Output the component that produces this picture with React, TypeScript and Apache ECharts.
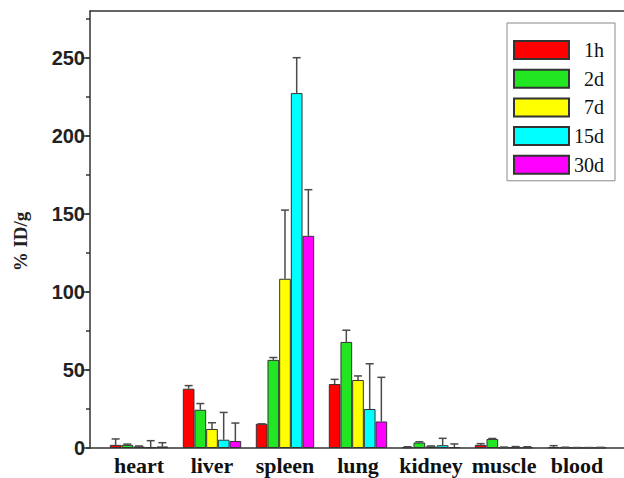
import React, { useEffect, useRef } from "react";
import * as echarts from "echarts";

const categories = ["heart", "liver", "spleen", "lung", "kidney", "muscle", "blood"];
const seriesNames = ["1h", "2d", "7d", "15d", "30d"];
const colors = ["#ff0000", "#22e622", "#ffff00", "#00ffff", "#ff00ff"];

const v1h = [2, 38, 15.5, 41, 0.5, 2, 0.5];
const v2d = [2, 24.5, 56.5, 68, 3.5, 5.8, 0.3];
const v7d = [1, 12.2, 108.5, 43.6, 1, 0.4, 0.2];
const v15d = [0.5, 5.3, 227.5, 25, 1.8, 0.4, 0.2];
const v30d = [1, 4.5, 136, 17, 0.6, 0.4, 0.3];

const e1h = [3.8, 2, 0, 3, 0.3, 0.8, 1];
const e2d = [0.5, 4, 1.5, 7.5, 0.5, 0.3, 0.2];
const e7d = [0.3, 4, 44, 2.6, 0.3, 0.2, 0.1];
const e15d = [4.2, 17.5, 22.7, 29, 4.4, 0.5, 0.1];
const e30d = [2.4, 11.5, 29.6, 28.3, 2, 0.4, 0.1];

const values = [v1h, v2d, v7d, v15d, v30d];
const errors = [e1h, e2d, e7d, e15d, e30d];

const PLOT_TOP = 11.2;
const PLOT_BOTTOM = 448;
const PX_PER_UNIT = (PLOT_BOTTOM - PLOT_TOP) / 280;

export default function App() {
  const ref = useRef<HTMLDivElement>(null);
  useEffect(() => {
    if (!ref.current) return;
    const chart = echarts.init(ref.current, undefined, { renderer: "svg" });
    const bottomGap = 478 - PLOT_BOTTOM;
    const barCatGap = 0.2;
    const nSeries = seriesNames.length;

    const barSeries = seriesNames.map((name, i) => ({
      name,
      type: "bar",
      xAxisIndex: 3,
      yAxisIndex: 3,
      data: values[i],
      barGap: "0%",
      barCategoryGap: "20%",
      itemStyle: { color: colors[i], borderColor: "#333", borderWidth: 1 },
      z: 3,
    }));

    const errSeries = seriesNames.map((name, i) => ({
      name: name + "-err",
      type: "custom",
      xAxisIndex: 3,
      yAxisIndex: 3,
      z: 4,
      data: values[i].map((v, k) => [k, v, errors[i][k]]),
      renderItem: (params: any, api: any) => {
        const band = api.size([1, 0])[0];
        const barW = (band * (1 - barCatGap)) / nSeries;
        const cx = api.coord([api.value(0), 0])[0] + (i - (nSeries - 1) / 2) * barW;
        const yTop = api.coord([api.value(0), api.value(1)])[1];
        const yErr = api.coord([api.value(0), api.value(1) + api.value(2)])[1];
        const st = { stroke: "#4a4a4a", lineWidth: 1.5 };
        return {
          type: "group",
          children: [
            { type: "line", shape: { x1: cx, y1: yTop, x2: cx, y2: yErr }, style: st },
            { type: "line", shape: { x1: cx - 4, y1: yErr, x2: cx + 4, y2: yErr }, style: st },
          ],
        };
      },
    }));

    const hiddenX = (gridIndex: number) => ({
      type: "value",
      gridIndex,
      show: false,
    });

    const option: any = {
      animation: false,
      backgroundColor: "#ffffff",
      grid: [
        { left: 90, right: 0, top: PLOT_TOP, bottom: bottomGap },
        { left: 90, right: 0, top: PLOT_BOTTOM - 250 * PX_PER_UNIT, bottom: bottomGap },
        { left: 90, right: 0, top: PLOT_BOTTOM - 275 * PX_PER_UNIT, bottom: bottomGap },
        { left: 102.5, width: 511, top: PLOT_TOP, bottom: bottomGap },
      ],
      xAxis: [
        {
          type: "value",
          gridIndex: 0,
          position: "bottom",
          axisLine: { show: true, lineStyle: { color: "#333", width: 1.5 } },
          axisTick: { show: false },
          axisLabel: { show: false },
          splitLine: { show: false },
        },
        hiddenX(1),
        hiddenX(2),
        {
          type: "category",
          gridIndex: 3,
          data: categories,
          axisLine: { show: false },
          axisTick: { show: false },
          axisLabel: {
            interval: 0,
            margin: 6,
            fontFamily: "Liberation Serif",
            fontWeight: "bold",
            fontSize: 22,
            color: "#111",
          },
        },
        {
          type: "value",
          gridIndex: 0,
          position: "top",
          axisLine: { show: true, lineStyle: { color: "#333", width: 1.5 } },
          axisTick: { show: false },
          axisLabel: { show: false },
          splitLine: { show: false },
        },
      ],
      yAxis: [
        {
          type: "value",
          gridIndex: 0,
          min: 0,
          max: 280,
          axisLine: { show: true, lineStyle: { color: "#333", width: 1.5 } },
          axisTick: { show: false },
          axisLabel: { show: false },
          splitLine: { show: false },
        },
        {
          type: "value",
          gridIndex: 1,
          min: 0,
          max: 250,
          interval: 50,
          axisLine: { show: false },
          axisTick: { show: true, inside: false, length: 7, lineStyle: { color: "#333", width: 1.5 } },
          axisLabel: {
            margin: 5,
            fontFamily: "Liberation Sans",
            fontWeight: "bold",
            fontSize: 20,
            color: "#222",
          },
          splitLine: { show: false },
        },
        {
          type: "value",
          gridIndex: 2,
          min: 0,
          max: 275,
          interval: 25,
          name: "% ID/g",
          nameLocation: "middle",
          nameGap: 60,
          nameTextStyle: {
            fontFamily: "Liberation Serif",
            fontWeight: "bold",
            fontSize: 19,
            color: "#222",
            padding: [0, 16, 0, 0],
          },
          axisLine: { show: false },
          axisTick: { show: true, length: 4, lineStyle: { color: "#333", width: 1.5 } },
          axisLabel: { show: false },
          splitLine: { show: false },
        },
        {
          type: "value",
          gridIndex: 3,
          min: 0,
          max: 280,
          show: false,
        },
      ],
      legend: {
        data: seriesNames,
        orient: "vertical",
        left: 507,
        top: 23,
        padding: [17, 11, 6, 6],
        borderColor: "#888",
        borderWidth: 1,
        itemWidth: 55,
        itemHeight: 18,
        itemGap: 8.7,
        icon: "rect",
        formatter: "{a|{name}}",
        textStyle: {
          fontFamily: "Liberation Serif",
          fontSize: 20,
          color: "#111",
          rich: {
            a: {
              fontFamily: "Liberation Serif",
              fontSize: 20,
              color: "#111",
              width: 30,
              align: "right",
              lineHeight: 18,
            },
          },
        },
      },
      series: [...barSeries, ...errSeries],
    };
    chart.setOption(option);
    return () => chart.dispose();
  }, []);

  return (
    <div
      ref={ref}
      style={{ position: "fixed", left: 0, top: 0, width: 624, height: 478, background: "#fff" }}
    />
  );
}
